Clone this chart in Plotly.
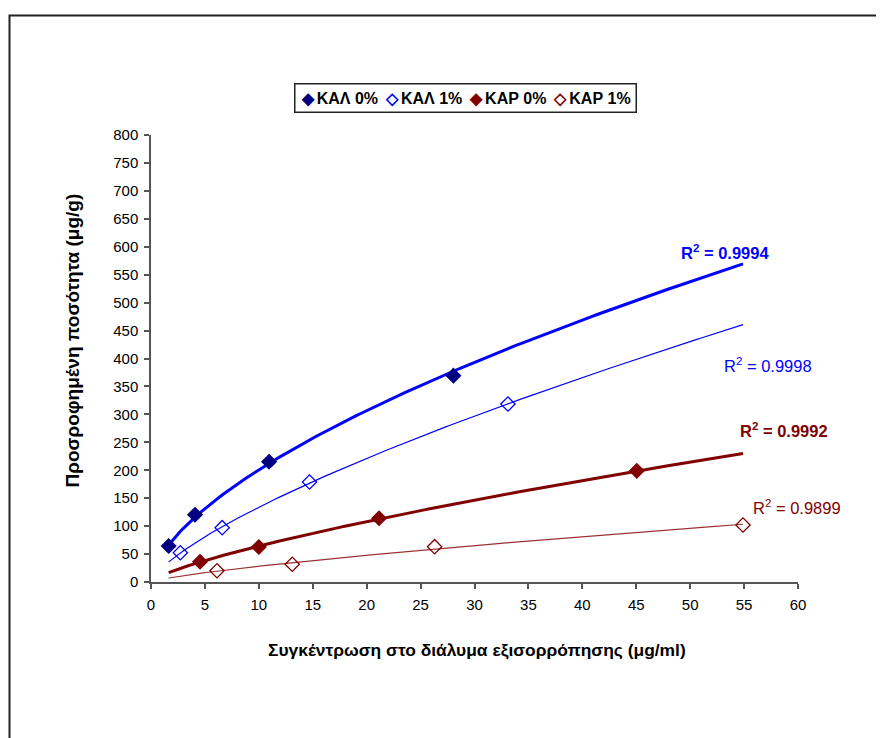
import numpy as np
import plotly.graph_objects as go

# ---- data ----
series_names = ["ΚΑΛ 0%", "ΚΑΛ 1%", "ΚΑΡ 0%", "ΚΑΡ 1%"]
kal0_x = [1.64, 4.08, 10.95, 28.05]
kal0_y = [64.4, 120.4, 215.3, 369.3]
kal1_x = [2.72, 6.6, 14.7, 33.1]
kal1_y = [52.4, 97.2, 179.0, 318.5]
kar0_x = [4.55, 10.0, 21.15, 45.05]
kar0_y = [36.3, 62.6, 114.0, 199.0]
kar1_x = [6.12, 13.1, 26.3, 54.9]
kar1_y = [20.2, 31.7, 63.2, 102.0]
r2_labels = ["0.9994", "0.9998", "0.9992", "0.9899"]

xs_all = [kal0_x, kal1_x, kar0_x, kar1_x]
ys_all = [kal0_y, kal1_y, kar0_y, kar1_y]

# ---- styles ----
marker_symbols = ["diamond", "diamond-open", "diamond", "diamond-open"]
legend_glyphs = ["◆", "◇", "◆", "◇"]
marker_colors = ["#000080", "#0000FF", "#800000", "#800000"]
line_colors = ["#0000FF", "#0000FF", "#800000", "#993333"]
label_colors = ["#0000FF", "#0000FF", "#800000", "#800000"]
line_widths = [3, 1.2, 3, 1.2]
label_bold = [True, False, True, False]
label_pos = [(53.2, 590), (57.2, 388), (58.7, 272), (59.9, 134)]

FONT = "Liberation Sans, Arial, sans-serif"

# reference pixel -> paper helpers (plot area: x 151..798, y 135..582)
def px(x):
    return (x - 151) / 647

def py(y):
    return (582 - y) / 447

fig = go.Figure()

xmin = min(min(v) for v in xs_all)
xmax = max(max(v) for v in xs_all)
xfit = np.linspace(xmin, xmax, 200)

# power trendlines (y = a x^b) fitted from the data
for i in range(4):
    x = np.array(xs_all[i]); y = np.array(ys_all[i])
    b, lna = np.polyfit(np.log(x), np.log(y), 1)
    yfit = np.exp(lna) * xfit ** b
    fig.add_trace(go.Scatter(x=xfit, y=yfit, mode="lines",
                             line=dict(color=line_colors[i], width=line_widths[i]),
                             showlegend=False, hoverinfo="skip"))

for i in range(4):
    fig.add_trace(go.Scatter(x=xs_all[i], y=ys_all[i], mode="markers", name=series_names[i],
                             showlegend=False,
                             marker=dict(symbol=marker_symbols[i], size=11,
                                         color=marker_colors[i],
                                         line=dict(color=marker_colors[i], width=1.3))))

for i in range(4):
    t = "R<sup>2</sup> = " + r2_labels[i]
    if label_bold[i]:
        t = "<b>" + t + "</b>"
    fig.add_annotation(x=label_pos[i][0], y=label_pos[i][1], xref="x", yref="y",
                       text=t, showarrow=False,
                       font=dict(family=FONT, size=16.5, color=label_colors[i]))

# legend box (text legend like the original)
leg_parts = []
for i in range(4):
    leg_parts.append('<span style="color:%s">%s</span>\u2009%s' % (
        marker_colors[i] if i != 1 else "#0000FF", legend_glyphs[i], series_names[i]))
fig.add_annotation(x=px(465.5), y=py(83), xref="paper", yref="paper",
                   text="<b>" + "\u00a0\u2009".join(leg_parts) + "</b>", showarrow=False,
                   font=dict(family=FONT, size=16, color="black"),
                   bordercolor="#222222", borderwidth=1.5, borderpad=5, bgcolor="white")

# axis titles
fig.add_annotation(x=px(477), y=py(662), xref="paper", yref="paper",
                   text="<b>Συγκέντρωση στο διάλυμα εξισορρόπησης (μg/ml)</b>", showarrow=False,
                   font=dict(family=FONT, size=17.4, color="black"))
fig.add_annotation(x=px(59), y=py(341), xref="paper", yref="paper",
                   text="<b>Προσροφημένη ποσότητα (μg/g)</b>", showarrow=False, textangle=-90,
                   font=dict(family=FONT, size=19, color="black"))

# outer chart border
fig.add_shape(type="rect", xref="paper", yref="paper",
              x0=px(9.5), x1=1.3, y0=-0.5, y1=py(15.5),
              line=dict(color="#222222", width=2), fillcolor="rgba(0,0,0,0)")

axis_common = dict(showgrid=False, zeroline=False, showline=True, linecolor="#555555",
                   linewidth=1.5, ticks="outside", ticklen=5, tickcolor="#555555",
                   tickwidth=1.5, ticklabelstandoff=3,
                   tickfont=dict(family=FONT, size=15, color="black"))

fig.update_xaxes(range=[0, 60], dtick=5, tick0=0, **axis_common)
fig.update_yaxes(range=[0, 800], dtick=50, tick0=0, **axis_common)

# the page adds an 8px body margin, so the figure is offset by 8px
fig.update_layout(
    width=876, height=730,
    margin=dict(l=143, r=86, t=127, b=156, autoexpand=False),
    paper_bgcolor="white", plot_bgcolor="white",
    showlegend=False,
)

fig.write_html("out.html")
